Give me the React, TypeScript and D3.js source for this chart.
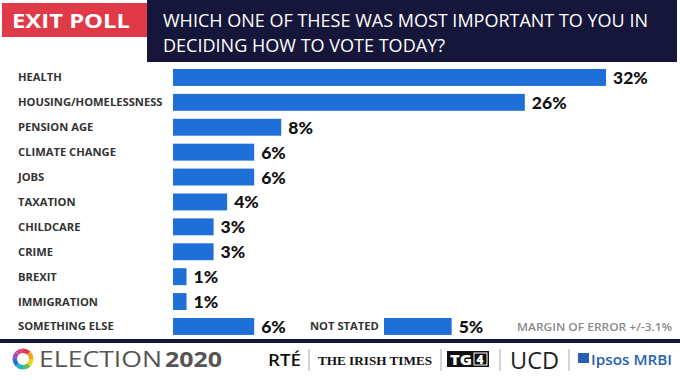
import React from "react";
import * as d3 from "d3";

const categories = [
  "HEALTH",
  "HOUSING/HOMELESSNESS",
  "PENSION AGE",
  "CLIMATE CHANGE",
  "JOBS",
  "TAXATION",
  "CHILDCARE",
  "CRIME",
  "BREXIT",
  "IMMIGRATION",
  "SOMETHING ELSE",
];
const values = [32, 26, 8, 6, 6, 4, 3, 3, 1, 1, 6];
const extraLabel = "NOT STATED";
const extraValue = 5;
const titleLines = [
  "WHICH ONE OF THESE WAS MOST IMPORTANT TO YOU IN",
  "DECIDING HOW TO VOTE TODAY?",
];
const marginNote = "MARGIN OF ERROR +/-3.1%";
const ringColors = ["#e63946", "#f4a020", "#f2d21b", "#5cc15a", "#1fb5c9", "#2f6fd6", "#9b4fc4", "#e0458f"];

const W = 680;
const H = 380;
const BLUE = "#1f6fd8";
const NAVY = "#16163a";

export default function App() {
  const x = d3.scaleLinear().domain([0, 32]).range([173, 606]);
  const y = d3
    .scaleBand<string>()
    .domain(categories)
    .range([65, 65 + categories.length * 24.9])
    .paddingInner(0.32)
    .paddingOuter(0.16);
  const lastRow = categories[categories.length - 1];
  const x2 = d3.scaleLinear().domain([0, 32]).range([384, 384 + 433]);
  const arc = d3.arc<any>();
  const ringPie = d3.pie<string>().value(() => 1).sort(null)(ringColors);
  const labelFont = "'Open Sans', 'Noto Sans', sans-serif";
  const valueFont = "'Lato', 'Open Sans', sans-serif";
  const bh = y.bandwidth();

  return (
    <svg
      width={W}
      height={H}
      viewBox={`0 0 ${W} ${H}`}
      style={{ position: "absolute", left: 0, top: 0, display: "block", background: "#fff" }}
    >
      <rect x={0} y={0} width={W} height={H} fill="#fff" />
      {/* Header */}
      <rect x={147} y={0} width={530} height={62} fill={NAVY} />
      <rect x={2} y={3} width={145} height={34} fill="#e03a48" />
      <text x={12} y={28} fill="#fff" fontFamily={labelFont} fontWeight={700} fontSize={20} textLength={118} lengthAdjust="spacingAndGlyphs">
        EXIT POLL
      </text>
      {titleLines.map((t, i) => (
        <text
          key={i}
          x={163}
          y={27 + i * 25}
          fill="#fff"
          fontFamily={labelFont}
          fontSize={17.5}
          textLength={i === 0 ? 485 : 282}
          lengthAdjust="spacingAndGlyphs"
        >
          {t}
        </text>
      ))}

      {/* Bars */}
      {categories.map((c, i) => {
        const yy = y(c)!;
        return (
          <g key={c}>
            <text x={18} y={yy + bh / 2 + 4} fill="#333" fontFamily={labelFont} fontWeight={700} fontSize={11.2}>
              {c}
            </text>
            <rect x={x(0)} y={yy} width={x(values[i]) - x(0)} height={bh} fill={BLUE} />
            <text x={x(values[i]) + 7} y={yy + bh / 2 + 6.5} fill="#111" fontFamily={valueFont} fontWeight={900} fontSize={17.5}>
              {values[i]}%
            </text>
          </g>
        );
      })}
      {/* Not stated */}
      <text x={310} y={y(lastRow)! + bh / 2 + 4} fill="#333" fontFamily={labelFont} fontWeight={700} fontSize={11.2}>
        {extraLabel}
      </text>
      <rect x={x2(0)} y={y(lastRow)!} width={x2(extraValue) - x2(0)} height={bh} fill={BLUE} />
      <text x={x2(extraValue) + 7} y={y(lastRow)! + bh / 2 + 6.5} fill="#111" fontFamily={valueFont} fontWeight={900} fontSize={17.5}>
        {extraValue}%
      </text>
      <text x={517} y={y(lastRow)! + bh / 2 + 5} fill="#8a8a8a" fontFamily={labelFont} fontWeight={600} fontSize={10.5} textLength={155} lengthAdjust="spacingAndGlyphs">
        {marginNote}
      </text>

      {/* Footer */}
      <rect x={0} y={339} width={W} height={4} fill={NAVY} />
      <g transform="translate(23,359)">
        {ringPie.map((p, i) => (
          <path
            key={i}
            d={arc({ innerRadius: 6, outerRadius: 10.5, startAngle: p.startAngle, endAngle: p.endAngle })!}
            fill={ringColors[i]}
          />
        ))}
      </g>
      <text x={39} y={367} fill="#555" fontFamily="'Open Sans', sans-serif" fontSize={22} textLength={123} lengthAdjust="spacingAndGlyphs">
        ELECTION
      </text>
      <text x={165} y={367} fill="#555" fontFamily="'Open Sans', sans-serif" fontWeight={700} fontSize={22} textLength={57} lengthAdjust="spacingAndGlyphs">
        2020
      </text>
      <text x={268} y={366} fill="#111" fontFamily="'Open Sans', sans-serif" fontWeight={600} fontSize={17} textLength={33} lengthAdjust="spacingAndGlyphs">
        RTÉ
      </text>
      {[309, 441, 500, 569].map((sx) => (
        <line key={sx} x1={sx} x2={sx} y1={349} y2={371} stroke="#aaa" strokeWidth={1} />
      ))}
      <text x={318} y={365} fill="#111" fontFamily="'Liberation Serif', 'DejaVu Serif', serif" fontWeight={700} fontSize={13} textLength={114} lengthAdjust="spacingAndGlyphs">
        THE IRISH TIMES
      </text>
      <rect x={447} y={351} width={42} height={16} fill="#111" />
      <text x={450} y={364.5} fill="#fff" fontFamily="'Open Sans', sans-serif" fontWeight={800} fontSize={14} textLength={22} lengthAdjust="spacingAndGlyphs">
        TG
      </text>
      <rect x={474} y={353} width={13} height={12} fill="#111" stroke="#fff" strokeWidth={1} />
      <text x={476.5} y={364} fill="#fff" fontFamily="'Open Sans', sans-serif" fontWeight={800} fontSize={12}>
        4
      </text>
      <text x={510} y={369} fill="#222" fontFamily="'Open Sans', sans-serif" fontSize={24} textLength={49} lengthAdjust="spacingAndGlyphs">
        UCD
      </text>
      <rect x={578} y={353} width={11} height={10} fill="#2b5fb5" />
      <text x={591} y={365} fill="#2b5fb5" fontFamily="'Open Sans', sans-serif" fontWeight={600} fontSize={15} textLength={81} lengthAdjust="spacingAndGlyphs">
        Ipsos MRBI
      </text>
    </svg>
  );
}
